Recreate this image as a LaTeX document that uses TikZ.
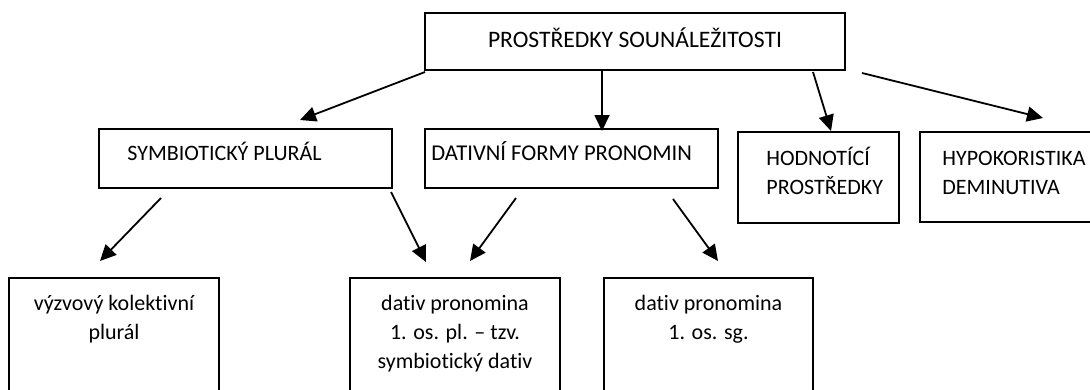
\documentclass[tikz,border=0pt]{standalone}
\usepackage{fontspec}
\setmainfont[Ligatures=NoCommon]{Carlito}
\usetikzlibrary{arrows.meta}
\newcommand\fstrut{\rule{0pt}{11pt}}
\begin{document}
\begin{tikzpicture}[x=0.5pt,y=-0.5pt,
  box/.style={draw,line width=1pt,inner sep=0pt},
  txt/.style={inner sep=0pt,font=\fontsize{11}{14.5}\selectfont},
  arr/.style={line width=0.9pt,-{Triangle[length=8pt,width=7.5pt]}}]
\useasboundingbox (0,0) rectangle (1090,390);
\clip (0,0) rectangle (1090,390);
% boxes
\node[box,minimum width=210pt,minimum height=28.5pt] (top) at (635,41.5) {};
\node[box,minimum width=146.5pt,minimum height=29.5pt] (sym) at (245.5,158.5) {};
\node[box,minimum width=146.5pt,minimum height=29.5pt] (dat) at (571.5,158.5) {};
\node[box,minimum width=80.5pt,minimum height=45.5pt] (hod) at (818.5,177.5) {};
\node[box,minimum width=90pt,minimum height=45pt] (hyp) at (1010,177) {};
\node[box,minimum width=105pt,minimum height=76pt] (vyz) at (114,354) {};
\node[box,minimum width=105pt,minimum height=76pt] (dpl) at (455,354) {};
\node[box,minimum width=104.5pt,minimum height=76pt] (dsg) at (708.5,354) {};
% texts
\node[txt,anchor=north,font=\fontsize{11.8}{14.5}\selectfont] (topT) at (635,25) {\fstrut PROSTŘEDKY SOUNÁLEŽITOSTI};
\node[txt,anchor=north west] (symT) at (127,138) {\fstrut SYMBIOTICKÝ PLURÁL};
\node[txt,anchor=north west,font=\fontsize{11.3}{14.5}\selectfont] (datT) at (431,138) {\fstrut DATIVNÍ FORMY PRONOMIN};
\node[txt,anchor=north west,align=left] (hodT) at (766,143) {\fstrut HODNOTÍCÍ\\PROSTŘEDKY};
\node[txt,anchor=north west,align=left] (hypT) at (942,143) {\fstrut HYPOKORISTIKA\\DEMINUTIVA};
\node[txt,anchor=north,align=center] (vyzT) at (114,288) {\fstrut výzvový kolektivní\\plurál};
\node[txt,anchor=north,align=center] (dplT) at (455,288) {\fstrut dativ pronomina\\1. os. pl. – tzv.\\symbiotický dativ};
\node[txt,anchor=north,align=center] (dsgT) at (708.5,288) {\fstrut dativ pronomina\\1. os. sg.};
% arrow ends
\coordinate (a1s) at (425,72);  \coordinate (a1e) at (300,120);
\coordinate (a2s) at (602,70);  \coordinate (a2e) at (602,131);
\coordinate (a3s) at (813,72);  \coordinate (a3e) at (831,131);
\coordinate (a4s) at (862,73);  \coordinate (a4e) at (1043,118);
\coordinate (a5s) at (161,198); \coordinate (a5e) at (100,261);
\coordinate (a6s) at (391,192); \coordinate (a6e) at (426,262);
\coordinate (a7s) at (516,198); \coordinate (a7e) at (470,261);
\coordinate (a8s) at (673,199); \coordinate (a8e) at (718,261);
\draw[arr] (a1s) -- (a1e);
\draw[arr] (a2s) -- (a2e);
\draw[arr] (a3s) -- (a3e);
\draw[arr] (a4s) -- (a4e);
\draw[arr] (a5s) -- (a5e);
\draw[arr] (a6s) -- (a6e);
\draw[arr] (a7s) -- (a7e);
\draw[arr] (a8s) -- (a8e);
\end{tikzpicture}
\end{document}
